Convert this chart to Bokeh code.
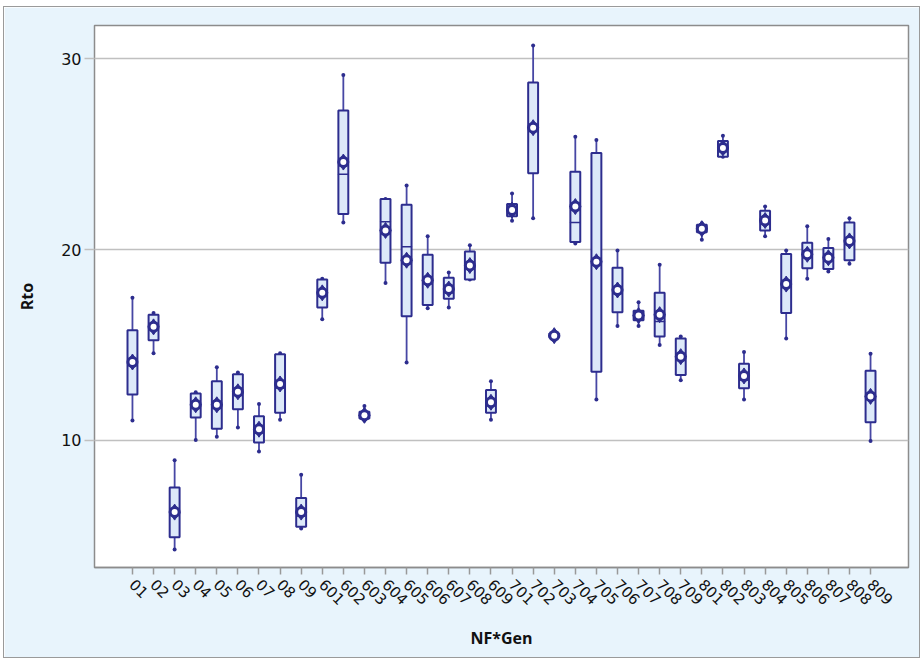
from bokeh.plotting import figure
from bokeh.models import FixedTicker, Range1d, ColumnDataSource
from bokeh.embed import file_html
from bokeh.resources import INLINE
import math

# Genotype groups (NF*Gen)
groups = ["01", "02", "03", "04", "05", "06", "07", "08", "09",
          "601", "602", "603", "604", "605", "606", "607", "608", "609",
          "701", "702", "703", "704", "705", "706", "707", "708", "709",
          "801", "802", "803", "804", "805", "806", "807", "808", "809"]

# Rto summary statistics per group
whisker_low = [11.05, 14.57, 4.29, 10.02, 10.20, 10.68, 9.43, 11.08, 5.39,
               16.35, 21.41, 11.05, 18.25, 14.08, 16.92, 16.96, 18.43, 11.08,
               21.50, 21.64, 15.35, 20.32, 12.15, 15.99, 15.99, 15.00, 13.16,
               20.51, 24.86, 12.15, 20.69, 15.34, 18.47, 18.85, 19.26, 9.98]
q1 = [12.41, 15.25, 4.93, 11.21, 10.62, 11.63, 9.89, 11.45, 5.48,
      16.96, 21.86, 11.15, 19.31, 16.50, 17.09, 17.42, 18.43, 11.45,
      21.74, 23.99, 15.40, 20.39, 13.60, 16.72, 16.30, 15.45, 13.43,
      20.90, 24.86, 12.74, 21.00, 16.68, 19.02, 18.98, 19.44, 10.96]
median = [14.00, 16.10, 6.20, 11.90, 11.90, 12.50, 10.60, 12.90, 6.20,
          17.80, 23.94, 11.30, 21.46, 20.14, 18.40, 17.90, 19.10, 12.00,
          22.05, 26.40, 15.50, 21.42, 19.40, 17.90, 16.55, 16.23, 14.40,
          21.10, 25.30, 13.40, 21.50, 18.20, 19.70, 19.55, 20.40, 12.30]
q3 = [15.77, 16.59, 7.54, 12.46, 13.10, 13.47, 11.27, 14.52, 6.99,
      18.43, 27.28, 11.50, 22.65, 22.34, 19.72, 18.52, 19.90, 12.64,
      22.38, 28.75, 15.60, 24.07, 25.05, 19.04, 16.80, 17.73, 15.34,
      21.30, 25.68, 14.02, 22.03, 19.76, 20.36, 20.08, 21.42, 13.65]
whisker_high = [17.47, 16.68, 8.97, 12.52, 13.84, 13.56, 11.91, 14.57, 8.20,
                18.47, 29.14, 11.80, 22.65, 23.35, 20.69, 18.80, 20.23, 13.10,
                22.93, 30.68, 15.65, 25.90, 25.73, 19.95, 17.24, 19.20, 15.45,
                21.37, 25.96, 14.63, 22.25, 19.95, 21.22, 20.55, 21.64, 14.54]
mean = [14.11, 15.95, 6.25, 11.87, 11.87, 12.55, 10.59, 12.96, 6.25,
        17.73, 24.58, 11.32, 21.00, 19.44, 18.39, 17.93, 19.16, 12.00,
        22.07, 26.38, 15.49, 22.25, 19.36, 17.88, 16.54, 16.59, 14.39,
        21.09, 25.32, 13.38, 21.52, 18.19, 19.75, 19.57, 20.45, 12.31]

y_ticks = [10, 20, 30]

NAVY = "#2d2d8e"
WHISKER = "#4747a4"
BOX_FILL = "#dde9f9"
PANEL_BG = "#e8f4fc"

xs = list(range(len(groups)))
src = ColumnDataSource(dict(x=xs, lo=whisker_low, q1=q1, med=median, q3=q3,
                            hi=whisker_high, mean=mean))

p = figure(width=917, height=652, output_backend="svg", toolbar_location=None,
           x_range=Range1d(-1.8, len(groups) - 1 + 1.8),
           y_range=Range1d(3.35, 31.73),
           min_border_left=90, min_border_right=13,
           min_border_top=18, min_border_bottom=92)
p.margin = (6, 0, 0, 3)
p.styles = {"border": "1px solid #9a9a9a", "box-sizing": "border-box"}

p.background_fill_color = "white"
p.border_fill_color = PANEL_BG
p.outline_line_color = "#8c8c8c"
p.outline_line_width = 1.5

# whiskers with small end caps
p.segment(x0="x", y0="lo", x1="x", y1="hi", source=src,
          line_color=WHISKER, line_width=1.8)
p.scatter(x="x", y="lo", source=src, marker="circle", size=4,
          fill_color=NAVY, line_color=None)
p.scatter(x="x", y="hi", source=src, marker="circle", size=4,
          fill_color=NAVY, line_color=None)

# interquartile boxes
p.vbar(x="x", bottom="q1", top="q3", width=0.47, source=src,
       fill_color=BOX_FILL, line_color=NAVY, line_width=2)
# medians
p.rect(x="x", y="med", width=0.47, height=0.0001, height_units="data",
       source=src, fill_color=None, line_color=NAVY, line_width=1.5)

# means: ring with side points
p.scatter(x="x", y="mean", source=src, marker="diamond", size=16,
          fill_color=NAVY, line_color=NAVY, line_width=1)
p.scatter(x="x", y="mean", source=src, marker="circle", size=12,
          fill_color=NAVY, line_color=None)
p.scatter(x="x", y="mean", source=src, marker="circle", size=6,
          fill_color="white", line_color=None)

# grid
p.xgrid.grid_line_color = None
p.ygrid.ticker = FixedTicker(ticks=y_ticks)
p.ygrid.grid_line_color = "#c0c0c0"
p.ygrid.grid_line_width = 1.5

# y axis
p.yaxis.ticker = FixedTicker(ticks=y_ticks)
p.yaxis.axis_label = "Rto"
p.yaxis.axis_label_text_font = "Open Sans"
p.yaxis.axis_label_text_font_style = "bold"
p.yaxis.axis_label_text_font_size = "16px"
p.yaxis.axis_label_text_color = "#111111"
p.yaxis.axis_label_standoff = 20
p.yaxis.major_label_text_font = "DejaVu Sans"
p.yaxis.major_label_text_font_size = "16px"
p.yaxis.major_label_text_color = "#111111"
p.yaxis.major_label_standoff = 3
p.yaxis.axis_line_color = None
p.yaxis.major_tick_line_color = "#c0c0c0"
p.yaxis.major_tick_line_width = 1.5
p.yaxis.major_tick_out = 10
p.yaxis.major_tick_in = 0
p.yaxis.minor_tick_line_color = None

# x axis
p.xaxis.ticker = FixedTicker(ticks=xs)
p.xaxis.major_label_overrides = {i: g for i, g in enumerate(groups)}
p.xaxis.major_label_orientation = -math.pi / 4
p.xaxis.major_label_text_font = "DejaVu Sans"
p.xaxis.major_label_text_font_size = "15px"
p.xaxis.major_label_text_color = "#111111"
p.xaxis.major_label_standoff = 7
p.xaxis.axis_line_color = "#8c8c8c"
p.xaxis.axis_line_width = 1.5
p.xaxis.major_tick_line_color = "#999999"
p.xaxis.major_tick_line_width = 1.5
p.xaxis.major_tick_out = 7
p.xaxis.major_tick_in = 0
p.xaxis.minor_tick_line_color = None
p.xaxis.axis_label = "NF*Gen"
p.xaxis.axis_label_text_font = "Open Sans"
p.xaxis.axis_label_text_font_style = "bold"
p.xaxis.axis_label_text_font_size = "16px"
p.xaxis.axis_label_text_color = "#111111"
p.xaxis.axis_label_standoff = 14

open("out.html", "w").write(file_html(p, INLINE))
